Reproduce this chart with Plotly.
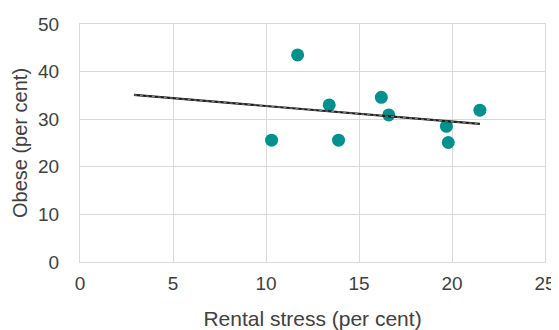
import plotly.graph_objects as go

rental_stress = [10.3, 11.7, 13.4, 13.9, 16.2, 16.6, 19.7, 19.8, 21.5]
obese = [25.6, 43.5, 33.0, 25.6, 34.6, 30.9, 28.5, 25.1, 31.9]
trend_x = [2.9, 21.5]
trend_y = [35.1, 29.0]

FONT = "Liberation Sans, Arial"

fig = go.Figure()
fig.add_trace(go.Scatter(x=rental_stress, y=obese, mode="markers",
                         marker=dict(color="#00918e", size=13), showlegend=False))
fig.add_trace(go.Scatter(x=trend_x, y=trend_y, mode="lines",
                         line=dict(color="#1a1a1a", width=2.2), showlegend=False))
fig.add_trace(go.Scatter(x=trend_x, y=trend_y, mode="lines",
                         line=dict(color="#8a8a8a", width=1, dash="dot"), showlegend=False))

axis_common = dict(showgrid=True, gridcolor="#d9d9d9", gridwidth=1,
                   showline=True, linecolor="#d9d9d9", mirror=True, zeroline=False,
                   ticks="", automargin=False,
                   tickfont=dict(family=FONT, size=19, color="#404040"))

fig.update_xaxes(range=[0, 25], dtick=5, ticklabelstandoff=4,
                 title=dict(text="Rental stress (per cent)", standoff=20,
                            font=dict(family=FONT, size=21, color="#404040")),
                 **axis_common)
fig.update_yaxes(range=[0, 50], dtick=10, ticklabelstandoff=16,
                 title=dict(text="Obese (per cent)", standoff=5,
                            font=dict(family=FONT, size=20, color="#404040")),
                 **axis_common)

# the page body adds an 8px margin, so the figure is sized/offset to compensate
fig.update_layout(width=551, height=322, margin=dict(l=72, r=14, t=16, b=68),
                  paper_bgcolor="white", plot_bgcolor="white")
fig.write_html("out.html")
